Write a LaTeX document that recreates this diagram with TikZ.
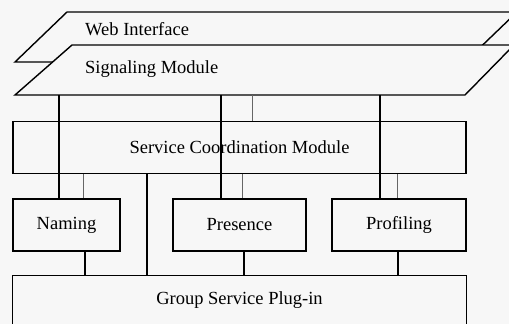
\documentclass[tikz,border=0pt]{standalone}
\usepackage{fontspec}
\setmainfont{Liberation Serif}
\begin{document}
\begin{tikzpicture}[x=1pt,y=-1pt,
    box/.style={draw,line width=1.4pt,minimum height=52pt,inner sep=0pt,font=\fontsize{18.5}{22}\selectfont},
    lbl/.style={anchor=base west,inner sep=0pt,font=\fontsize{18.5}{22}\selectfont},
    bus/.style={line width=1.4pt},
    tap/.style={line width=0.9pt,black!60}]
  \fill[black!3] (0,0) rectangle (509,324);
  \useasboundingbox (0,0) rectangle (509,324);

  \draw[bus,fill=black!3] (15,62) -- (67,12) -- (517,12) -- (465,62) -- cycle;
  \draw[bus,fill=black!3] (15,95) -- (72,45) -- (514,45) -- (465,95) -- cycle;
  \node[lbl] (web) at (85,35) {Web Interface};
  \node[lbl] (sig) at (85,73) {Signaling Module};

  \node[box,minimum width=453pt] (scm) at (239.5,147.5) {Service Coordination Module};
  \node[box,minimum width=107pt] (naming) at (66.5,225) {Naming};
  \node[box,minimum width=133pt] (presence) at (239.5,225) {Presence};
  \node[box,minimum width=134pt] (profiling) at (399,225) {Profiling};
  \node[box,draw=none,minimum width=453pt,minimum height=48pt] (gsp) at (239.5,300) {Group Service Plug-in};
  \draw[bus] (gsp.south west) -- (gsp.north west) -- (gsp.north east) -- (gsp.south east);

  \coordinate (s1) at (59,95);
  \coordinate (s2) at (221,95);
  \coordinate (s3) at (252,95);
  \coordinate (s4) at (380,95);
  \draw[bus] (s1) -- (s1 |- naming.north);
  \draw[bus] (s2) -- (s2 |- presence.north);
  \draw[bus] (s4) -- (s4 |- profiling.north);
  \draw[tap] (s3) -- (s3 |- scm.north);

  \draw[tap] (scm.south -| 83,0) -- (naming.north -| 83,0);
  \draw[tap] (scm.south -| 242,0) -- (presence.north -| 242,0);
  \draw[tap] (scm.south -| 397,0) -- (profiling.north -| 397,0);
  \draw[bus] (scm.south -| 147,0) -- (gsp.north -| 147,0);

  \draw[bus] (naming.south -| 85,0) -- (gsp.north -| 85,0);
  \draw[bus] (presence.south -| 244,0) -- (gsp.north -| 244,0);
  \draw[bus] (profiling.south -| 398,0) -- (gsp.north -| 398,0);
\end{tikzpicture}
\end{document}
